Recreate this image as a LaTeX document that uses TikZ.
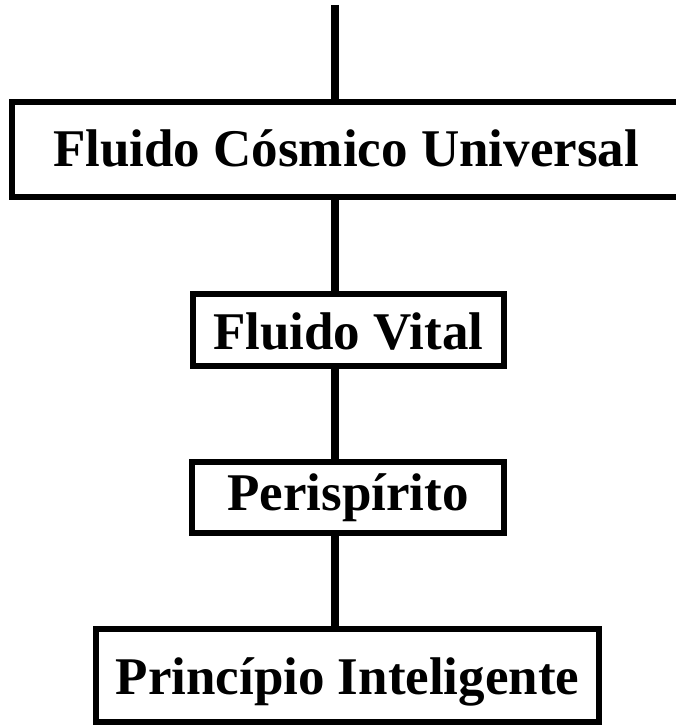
\documentclass[tikz,border=0pt]{standalone}
\usepackage{fontspec}
\setmainfont{Liberation Serif}
\begin{document}
\begin{tikzpicture}[x=1pt,y=-1pt,
  box/.style={draw=black,line width=6pt,fill=white,inner sep=0pt,
    font=\fontsize{53}{64}\selectfont\bfseries,text height=40pt},
  link/.style={draw=black,line width=8pt}]
\useasboundingbox (0,0) rectangle (676,725);
\coordinate (top) at (334.5,5);
\node[box,text depth=6pt,minimum width=668pt,minimum height=95pt] (b1) at (346,149) {Fluido Cósmico Universal};
\node[box,text depth=1pt,minimum width=311.5pt,minimum height=72pt] (b2) at (348.25,329.5) {Fluido Vital};
\node[box,text depth=15pt,minimum width=312pt,minimum height=71pt] (b3) at (348,497.5) {Perispírito};
\node[box,text depth=3pt,minimum width=503pt,minimum height=93pt] (b4) at (347.5,675.5) {Princípio Inteligente};
\draw[link] (top) -- (top |- b1.north);
\draw[link] (b1.south -| top) -- (b2.north -| top);
\draw[link] (b2.south -| top) -- (b3.north -| top);
\draw[link] (b3.south -| top) -- (b4.north -| top);
\end{tikzpicture}
\end{document}
